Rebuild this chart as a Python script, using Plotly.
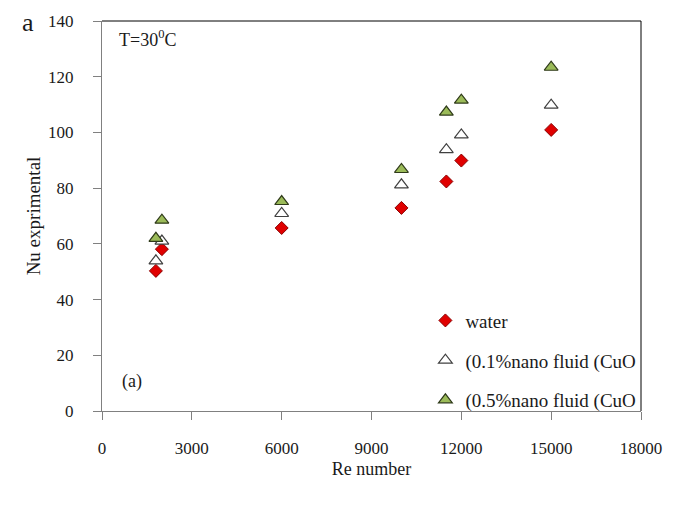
import plotly.graph_objects as go

re_water = [1800, 2000, 6000, 10000, 11500, 12000, 15000]
nu_water = [50.3, 58.1, 65.7, 72.9, 82.4, 89.9, 100.9]

re_01 = [1800, 2000, 6000, 10000, 11500, 12000, 15000]
nu_01 = [53.9, 61.0, 70.9, 81.2, 93.8, 99.1, 109.8]

re_05 = [1800, 2000, 6000, 10000, 11500, 12000, 15000]
nu_05 = [62.0, 68.5, 75.2, 86.7, 107.3, 111.6, 123.4]

x_ticks = [0, 3000, 6000, 9000, 12000, 15000, 18000]
y_ticks = [0, 20, 40, 60, 80, 100, 120, 140]

FONT = "Liberation Serif"
TXT = "#1a1a1a"

fig = go.Figure()
fig.add_trace(go.Scatter(
    x=re_water, y=nu_water, mode="markers", name="water", legendgroup="a",
    marker=dict(symbol="diamond", size=10, color="#E00000",
                line=dict(color="#8B0000", width=1))))
fig.add_trace(go.Scatter(
    x=re_01, y=nu_01, mode="markers", name="(0.1%nano fluid (CuO", legendgroup="b",
    marker=dict(symbol="triangle-up", size=12, color="#FFFFFF",
                line=dict(color="#404040", width=1.2))))
fig.add_trace(go.Scatter(
    x=re_05, y=nu_05, mode="markers", name="(0.5%nano fluid (CuO", legendgroup="c",
    marker=dict(symbol="triangle-up", size=12, color="#9BBB59",
                line=dict(color="#2F3A1A", width=1.2))))

axis_common = dict(
    showgrid=False, zeroline=False, showline=True, linecolor="#808080",
    linewidth=1, mirror=False, ticks="outside", ticklen=8, tickcolor="#808080",
    tickfont=dict(family=FONT, size=17, color=TXT),
)

fig.update_xaxes(range=[0, 18000], tickvals=x_ticks, ticktext=[str(v) for v in x_ticks],
                 ticklabelstandoff=14,
                 title=dict(text="Re number", font=dict(family=FONT, size=18, color=TXT),
                            standoff=4),
                 **axis_common)
fig.update_yaxes(range=[0, 140], tickvals=y_ticks, ticktext=[str(v) for v in y_ticks],
                 ticklabelstandoff=16,
                 title=dict(text="Nu exprimental", font=dict(family=FONT, size=19, color=TXT),
                            standoff=2),
                 **axis_common)

# plot box (top and right border in black)
fig.add_shape(type="line", xref="paper", yref="paper", x0=0, x1=1, y0=1, y1=1,
              line=dict(color="#000000", width=1))
fig.add_shape(type="line", xref="paper", yref="paper", x0=1, x1=1, y0=0, y1=1,
              line=dict(color="#000000", width=1))

fig.add_annotation(text="T=30<sup>0</sup>C", xref="paper", yref="paper", x=0.028, y=0.955,
                   xanchor="left", yanchor="middle", showarrow=False,
                   font=dict(family=FONT, size=18, color=TXT))
fig.add_annotation(text="(a)", xref="paper", yref="paper", x=0.033, y=0.075,
                   xanchor="left", yanchor="middle", showarrow=False,
                   font=dict(family=FONT, size=18, color=TXT))
fig.add_annotation(text="a", xref="paper", yref="paper", x=-0.137, y=0.995,
                   xanchor="center", yanchor="middle", showarrow=False,
                   font=dict(family=FONT, size=26, color=TXT))

fig.update_layout(
    width=679, height=505,
    margin=dict(l=102, r=38, t=18, b=94),
    paper_bgcolor="white", plot_bgcolor="white",
    font=dict(family=FONT, size=17, color=TXT),
    legend=dict(x=0.6, y=-0.022, xanchor="left", yanchor="bottom",
                bgcolor="rgba(0,0,0,0)", tracegroupgap=12,
                font=dict(family=FONT, size=19, color=TXT)),
)

fig.write_html("out.html")
